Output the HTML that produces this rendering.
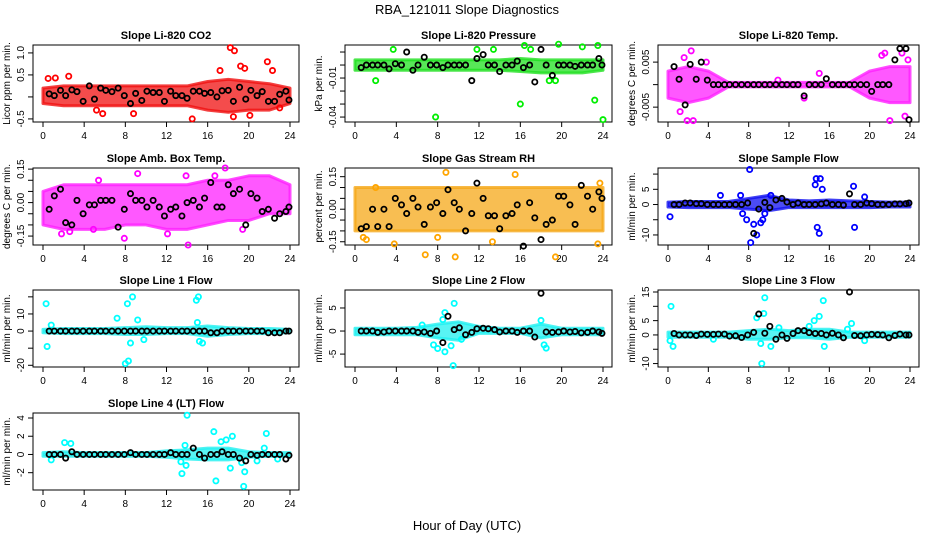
<!DOCTYPE html>
<html><head><meta charset="utf-8"><style>
html,body{margin:0;padding:0;background:#fff;}
svg{display:block;font-family:"Liberation Sans",sans-serif;}
</style></head><body>
<svg id="chart" width="936" height="540" viewBox="0 0 936 540">
<rect width="936" height="540" fill="#fff"/>
<text x="467" y="14" text-anchor="middle" font-size="13">RBA_121011  Slope Diagnostics</text>
<text x="467" y="530" text-anchor="middle" font-size="13">Hour of Day (UTC)</text>
</svg>
<script>
const xTicks = [0,4,8,12,16,20,24];
const bandHours = [0,2,4,6,8,10,12,14,16,18,20,22,24];
const blackHours = [0.6,1.1,1.7,2.2,2.8,3.3,3.9,4.5,5.0,5.6,6.1,6.7,7.3,7.9,8.5,9.0,9.6,10.1,10.7,11.3,11.8,12.4,12.9,13.5,14.0,14.6,15.2,15.7,16.3,16.9,17.4,18.0,18.5,19.1,19.7,20.2,20.8,21.3,21.9,22.5,23.0,23.6,23.9];

const panelTitles = ["Slope Li-820 CO2","Slope Li-820 Pressure","Slope Li-820 Temp.","Slope Amb. Box Temp.","Slope Gas Stream RH","Slope Sample Flow","Slope Line 1 Flow","Slope Line 2 Flow","Slope Line 3 Flow","Slope Line 4 (LT) Flow"];
const yTitles = ["Licor ppm per min.","kPa per min.","degrees C per min.","degrees C per min.","percent per min.","ml/min per min.","ml/min per min.","ml/min per min.","ml/min per min.","ml/min per min."];
const colors = ["#ff0000","#00ee00","#ff00ff","#ff00ff","#ffa500","#0000ff","#00ffff","#00ffff","#00ffff","#00ffff"];
const bandColors = ["#f01010","#20e020","#ff20ff","#ff20ff","#f5a818","#1010f0","#20f0f0","#20f0f0","#20f0f0","#20f0f0"];
const yRanges = [[-0.57,1.18],[-0.0438,0.0154],[-0.0083,0.0088],[-0.19,0.155],[-0.165,0.19],[-13.3,12],[-21,24],[-7.8,8.9],[-11.2,15.7],[-3.9,4.55]];
const yTickVals = [[-0.5,0,0.5,1.0],[-0.04,-0.03,-0.02,-0.01,0,0.01],[-0.005,0,0.005],[-0.15,-0.1,-0.05,0,0.05,0.1,0.15],[-0.15,-0.1,-0.05,0,0.05,0.1,0.15],[-10,-5,0,5,10],[-20,-10,0,10,20],[-5,0,5],[-10,-5,0,5,10,15],[-2,0,2,4]];
const yTickLabels = [["-0.5","","0.5","1.0"],["-0.04","","","-0.01","",""],["-0.005","","0.005"],["-0.15","","","0.00","","","0.15"],["-0.15","","","0.00","","","0.15"],["-10","","0","5",""],["-20","","0","10",""],["-5","0","5"],["-10","","0","5","","15"],["-2","0","2","4"]];

const bandLo = [
 [-0.15,-0.2,-0.2,-0.2,-0.2,-0.2,-0.2,-0.2,-0.3,-0.35,-0.3,-0.3,-0.15],
 [-0.004,-0.004,-0.004,-0.004,-0.004,-0.004,-0.004,-0.004,-0.005,-0.006,-0.006,-0.006,-0.004],
 [-0.003,-0.004,-0.003,-0.0005,-0.0005,-0.0005,-0.0005,-0.0005,-0.0005,-0.0005,-0.003,-0.004,-0.004],
 [-0.1,-0.12,-0.12,-0.12,-0.1,-0.1,-0.12,-0.12,-0.1,-0.08,-0.08,-0.05,-0.05],
 [-0.1,-0.1,-0.1,-0.1,-0.1,-0.1,-0.1,-0.1,-0.1,-0.1,-0.1,-0.1,-0.1],
 [-0.8,-1,-1,-1,-1.5,-2,-1,-1,-1,-1,-1,-0.8,-0.8],
 [-1,-1.5,-1.5,-1.5,-2,-2,-1.5,-1.5,-3,-2,-1.5,-1.5,-1],
 [-0.8,-0.8,-0.8,-0.8,-1.5,-2,-0.5,-0.5,-0.5,-1.5,-0.8,-0.8,-0.8],
 [-0.8,-0.8,-0.8,-0.8,-1.5,-1.5,-1,-1,-1.5,-0.8,-0.8,-0.8,-0.8],
 [-0.2,-0.2,-0.2,-0.2,-0.2,-0.2,-0.3,-0.5,-0.6,-0.6,-0.3,-0.2,-0.2]
];
const bandHi = [
 [0.2,0.25,0.25,0.25,0.25,0.25,0.25,0.25,0.35,0.4,0.35,0.3,0.2],
 [0.004,0.004,0.004,0.004,0.004,0.004,0.004,0.004,0.005,0.004,0.004,0.004,0.004],
 [0.003,0.004,0.003,0.0005,0.0005,0.0005,0.0005,0.0005,0.0005,0.0005,0.003,0.004,0.004],
 [0.05,0.08,0.08,0.08,0.08,0.08,0.08,0.08,0.1,0.1,0.12,0.12,0.08],
 [0.1,0.1,0.1,0.1,0.1,0.1,0.1,0.1,0.1,0.1,0.1,0.1,0.1],
 [0.8,1,1,1,2,3,1.5,1.2,1.5,1.2,1,0.8,0.8],
 [1,1.5,1.5,1.5,2,2.5,2,2,3,2,1.5,1.5,1],
 [0.6,0.6,0.6,0.8,1.5,2,1,0.6,0.6,1.5,0.6,0.6,0.6],
 [1,1,1,1,1.5,2,1.5,2,2,1,1,1,1],
 [0.2,0.3,0.2,0.2,0.2,0.2,0.4,0.5,0.7,0.7,0.3,0.2,0.2]
];
const outX = [
 [0.5,1.2,2.5,5.2,5.8,8.8,14.5,17.2,18.2,18.6,18.5,19.2,19.6,20.1,21.8,22.3,23.0],
 [3.7,7.8,2.0,16.0,16.4,19.7,22.0,23.2,24.0,11.8,13.4,17.0,23.5,18.8,19.4],
 [2.3,1.6,1.9,2.5,1.2,3.8,13.5,15.0,21.5,21.2,22.0,23.2,23.5,23.8,10.9],
 [1.8,2.6,4.9,7.9,9.2,12.1,14.1,13.9,16.7,17.7,5.4,19.4],
 [0.8,1.1,2.0,3.8,6.8,8.8,9.7,15.5,19.4,23.7,23.5,13.3,8.0],
 [0.2,7.4,7.8,8.1,8.2,8.5,8.8,9.2,9.4,9.6,10.2,14.6,14.7,15.1,15.3,14.8,15.0,18.4,18.5,19.5,5.2,7.2],
 [0.3,0.4,0.8,7.2,8.0,8.2,8.3,8.5,8.7,9.2,9.8,14.9,15.1,15.2,15.5,15.0],
 [7.6,8.0,8.7,9.5,9.3,9.6,8.7,8.5,10.3,18.0,18.3,18.5,6.5],
 [0.3,0.2,0.5,4.5,8.8,9.3,9.6,9.5,9.2,10.2,11.0,14.5,15.0,15.4,15.5,17.8,18.2,19.5,14.0],
 [0.8,2.1,2.7,13.5,14.0,13.8,13.9,13.4,16.6,16.8,17.3,17.8,18.4,18.2,19.3,19.6,19.5,21.7,21.5,20.8,22.8]
];
const outY = [
 [0.42,0.43,0.47,-0.3,-0.38,-0.38,-0.5,0.6,1.12,1.05,-0.45,0.7,0.65,-0.42,0.8,0.6,-0.25],
 [0.012,-0.04,-0.012,-0.03,0.015,0.016,0.014,-0.027,-0.042,0.012,0.012,0.012,0.015,-0.012,-0.012],
 [0.0075,0.006,-0.008,-0.008,-0.006,0.005,-0.003,0.0025,0.007,0.0065,-0.008,0.007,-0.007,0.0055,0.001],
 [-0.14,-0.13,-0.12,-0.16,0.13,-0.14,-0.19,0.12,0.12,0.155,0.1,-0.12],
 [-0.13,-0.14,0.1,-0.16,-0.21,0.17,-0.22,0.16,-0.22,0.12,-0.16,-0.15,-0.13],
 [-4,-3,-5,11.5,-12.5,-6.5,-10,-6,-5,-3,3,6.5,8.5,8.5,5,-7.5,-9.5,6,-7.5,2.5,3,3],
 [16,-9,3.5,7.5,-19,16,-17.5,-7,20,6.5,-5,18,20,-6,-7,5],
 [-3,-3.8,-4.5,-7.5,-3.2,6,4,2.5,-1.8,2.3,-3,-3.7,1.3],
 [10,-2,-4,-1.5,6,-10,13,7.5,-3,-4,2.5,5,6.5,12,-4,2,4,-2,3],
 [-0.6,1.3,1.2,-2.1,4.3,1,-1.2,-0.8,2.5,-2.9,1.4,1.6,2,-1.5,-0.9,-1.9,-3.5,2.3,0.7,-0.7,-0.5]
];
const blackY = [
 [0.07,0.03,0.15,0.03,0.16,0.12,-0.1,0.25,-0.05,0.2,0.15,0.12,0.2,0.03,-0.15,0.08,-0.08,0.13,0.1,0.1,-0.1,0.13,0.03,0.03,-0.03,0.13,0.13,0.08,0.1,0.0,0.14,0.15,-0.1,0.22,-0.05,0.15,0.03,0.12,-0.1,-0.1,0.06,0.13,-0.07],
 [-0.002,0,0,0,0,-0.003,0.001,0,0.01,-0.004,0,0.006,0,0,-0.002,0,0,0,0,-0.012,0.005,0.008,0,0,-0.005,0,0,0.003,-0.002,0,-0.013,0.012,0,-0.008,0,0,0,-0.001,0,0,0,0.005,0],
 [0.004,0.0012,-0.0045,0.0045,0.0012,0.005,0.001,0,0,0,0,0,0,0,0,0,0,0,0,0,0,0,0,-0.0025,0,0,0,0.0013,0,0,0,0,0,0,0,-0.0015,0,0,0,0.0055,0.008,0.008,-0.0078],
 [-0.03,0.03,0.06,-0.09,-0.1,0.01,-0.05,-0.01,-0.01,0.01,0.01,0.01,-0.11,-0.03,0.04,0.01,0.01,-0.02,0.01,-0.02,-0.06,-0.03,-0.02,-0.06,0.0,0.01,-0.02,0.02,0.09,-0.02,-0.02,0.08,0.04,0.06,-0.1,0.04,0.02,-0.04,-0.03,-0.07,-0.05,-0.04,-0.02],
 [-0.09,-0.08,0.0,-0.08,0.0,-0.08,0.05,0.02,-0.02,0.05,0.01,-0.07,0.01,0.03,-0.02,0.09,0.03,0.0,-0.1,-0.02,0.12,0.05,-0.03,-0.03,-0.09,-0.03,-0.02,0.02,-0.17,0.03,-0.04,-0.14,-0.07,-0.05,0.06,0.06,0.02,-0.07,0.11,0.06,0.0,0.08,0.05],
 [0,0,0.5,0.5,0.3,0.3,0,0,0,0,0,0,0,0.5,-9.5,-1.5,0.7,-1,1.5,2,0.8,0,0.5,0,0,0,0.2,0.5,0,0,-0.2,3.5,0,0,0.5,0.3,0,0,0,0.2,0.2,0.3,0.5],
 [0,0,0,0,0,0,0,0,0,0,0,0,0,0,0,0,0,0,0,0,0,0,0,0,0,0,0,0,-1,-1,0,0,0,0,0,0,0,0,-1,-1,-1,0,0],
 [0,0,0,-0.3,-0.2,0,0,0,0,0,-0.3,-0.2,-0.5,0,-2.5,3.2,0.3,0.7,-0.8,-0.3,0.5,0.6,0.5,0.3,-0.2,0,0,-0.3,0,0,-1.3,8.2,-0.2,-0.3,-0.2,0,-0.2,-0.1,-0.4,-0.3,0,-0.2,-0.5],
 [0.5,0,0,0,-0.2,0.3,0.2,0.2,0.3,0.3,-0.4,-0.3,-0.9,0,0.9,7.3,0.6,3,-1.5,0,-1.2,0.5,1.5,1.5,0.8,0.5,0.5,0,0.6,0,-1,15,-0.2,-0.3,0,0.2,0.1,0,-1,-0.2,0.3,0,0],
 [0,0,0,-0.4,0.3,0,0,0,0,0,0,0,0,0,0.2,0,0,0,0,0,0,0.2,0,0,0,0.7,0,-0.4,0,0,0.3,0,0,-0.4,-0.7,0,-0.1,0,0,0,0,-0.5,-0.1]
];

const NS = "http://www.w3.org/2000/svg";
const svg = document.getElementById("chart");
const colLeft = [33,345,658], colRight = [299,612,919];
const rowTop = [45,168,290,413], boxH = 77;
function mk(tag, attrs, parent){const e=document.createElementNS(NS,tag);for(const k in attrs)e.setAttribute(k,attrs[k]);parent.appendChild(e);return e;}
function slug(s){return s.toLowerCase().replace(/[^a-z0-9]+/g,'-').replace(/^-|-$/g,'');}

panelTitles.forEach((title,p)=>{
  const c=p%3, r=Math.floor(p/3);
  const L=colLeft[c], R=colRight[c], T=rowTop[r], B=T+boxH;
  const x0=L+10, x1=R-9;
  const xS=h=>x0+(h/24)*(x1-x0);
  const [ymin,ymax]=yRanges[p];
  const yS=v=>B-(v-ymin)/(ymax-ymin)*(B-T);
  const g=mk("g",{},svg);
  
  
  const t=mk("text",{x:(L+R)/2,y:T-6,"text-anchor":"middle","font-size":"11","font-weight":"bold"},g);
  t.textContent=title;
  
  
  const box=mk("rect",{x:L,y:T,width:R-L,height:boxH,fill:"none",stroke:"#000","stroke-width":"1"},g);
  
  
  xTicks.forEach(h=>{
    mk("line",{x1:xS(h),x2:xS(h),y1:B,y2:B+5,stroke:"#000"},g);
    const tl=mk("text",{x:xS(h),y:B+17,"text-anchor":"middle","font-size":"10"},g);
    tl.textContent=h;
    
    
  });
  const tv=yTickVals[p];
  tv.forEach((v,i)=>{
    mk("line",{x1:L-5,x2:L,y1:yS(v),y2:yS(v),stroke:"#000"},g);
    if(yTickLabels[p][i]){
      const yl=mk("text",{x:0,y:0,"text-anchor":"middle","font-size":"10",transform:`translate(${L-9},${yS(v)}) rotate(-90)`},g);
      yl.textContent=yTickLabels[p][i];
      
      
    }
  });
  const yt=mk("text",{x:0,y:0,"text-anchor":"middle","font-size":"10",transform:`translate(${L-23},${(T+B)/2}) rotate(-90)`},g);
  yt.textContent=yTitles[p];
  
  
  let pts=bandHours.map((h,i)=>xS(h)+","+yS(bandHi[p][i]));
  pts=pts.concat(bandHours.slice().reverse().map((h,i)=>{const j=bandHours.length-1-i;return xS(h)+","+yS(bandLo[p][j]);}));
  const band=mk("polygon",{points:pts.join(" "),fill:bandColors[p],"fill-opacity":"0.75",stroke:bandColors[p],"stroke-opacity":"0.8","stroke-width":"3","stroke-linejoin":"round"},g);
  
  
  outX[p].forEach((h,i)=>{
    const pt=mk("circle",{cx:xS(h),cy:yS(outY[p][i]),r:2.6,fill:"none",stroke:colors[p],"stroke-width":"1.8"},g);
    
    
  });
  blackHours.forEach((h,i)=>{
    const pt=mk("circle",{cx:xS(h),cy:yS(blackY[p][i]),r:2.6,fill:"none",stroke:"#000","stroke-width":"1.8"},g);
    
    
  });
});
</script>
</body></html>
